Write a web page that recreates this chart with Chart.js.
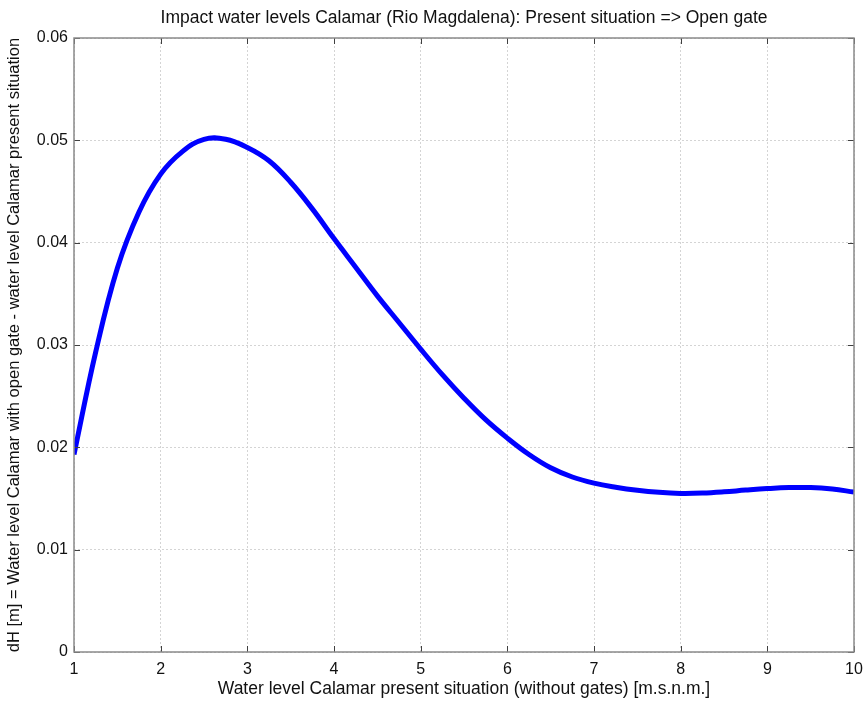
<!DOCTYPE html>
<html>
<head>
<meta charset="utf-8">
<script src="https://cdn.jsdelivr.net/npm/chart.js@4/dist/chart.umd.min.js"></script>
<style>
  html, body { margin: 0; padding: 0; background: #fff; }
  #wrap { width: 866px; height: 701px; }
</style>
</head>
<body>
<div id="wrap"><canvas id="c" width="866" height="701"></canvas></div>
<script>
// Water level at Calamar, present situation [m.s.n.m.]
const waterLevel = [1, 1.25, 1.5, 1.75, 2, 2.25, 2.5, 2.75, 3, 3.25, 3.5, 3.75, 4,
                    4.25, 4.5, 4.75, 5, 5.25, 5.5, 5.75, 6, 6.25, 6.5, 6.75, 7,
                    7.25, 7.5, 7.75, 8, 8.25, 8.5, 8.75, 9, 9.25, 9.5, 9.75, 10];
// dH [m]: open gate minus present situation
const deltaH = [0.0193, 0.0293, 0.0375, 0.0430, 0.0467, 0.0489, 0.0501, 0.0501, 0.0493,
                0.0480, 0.0459, 0.0433, 0.0404, 0.0376, 0.0348, 0.0322, 0.0296, 0.0271,
                0.0248, 0.0227, 0.0209, 0.0193, 0.0180, 0.0171, 0.0165, 0.0161, 0.0158,
                0.01560, 0.01550, 0.01553, 0.01565, 0.01582, 0.01597, 0.01607, 0.01607,
                0.01592, 0.01563];
const xTicks = [1, 2, 3, 4, 5, 6, 7, 8, 9, 10];
const yTicks = [0, 0.01, 0.02, 0.03, 0.04, 0.05, 0.06];

const FONT = "'Liberation Sans', Arial, Helvetica, sans-serif";
const TEXT = '#111';

// Box around the axes with inward tick marks on all four sides
const framePlugin = {
  id: 'frame',
  afterDatasetsDraw(chart) {
    const {ctx, chartArea: a, scales: {x, y}} = chart;
    ctx.save();
    ctx.strokeStyle = '#404040';
    ctx.lineWidth = 1;
    const len = 6;
    ctx.beginPath();
    xTicks.forEach(v => {
      const px = Math.round(x.getPixelForValue(v)) + 0.5;
      ctx.moveTo(px, a.bottom); ctx.lineTo(px, a.bottom - len);
      ctx.moveTo(px, a.top); ctx.lineTo(px, a.top + len);
    });
    yTicks.forEach(v => {
      const py = Math.round(y.getPixelForValue(v)) + 0.5;
      ctx.moveTo(a.left, py); ctx.lineTo(a.left + len, py);
      ctx.moveTo(a.right, py); ctx.lineTo(a.right - len, py);
    });
    ctx.stroke();
    ctx.strokeStyle = '#8a8a8a';
    ctx.lineWidth = 1.5;
    ctx.strokeRect(a.left, a.top, a.right - a.left, a.bottom - a.top);
    ctx.restore();
  }
};

new Chart(document.getElementById('c'), {
  type: 'scatter',
  data: {
    datasets: [{
      data: waterLevel.map((w, i) => ({x: w, y: deltaH[i]})),
      showLine: true,
      borderColor: '#0000ff',
      borderWidth: 5,
      pointRadius: 0,
      tension: 0.4,
      fill: false
    }]
  },
  options: {
    responsive: false,
    animation: false,
    events: [],
    layout: { padding: { left: 0, right: 12, top: 0, bottom: 0 } },
    plugins: {
      legend: { display: false },
      tooltip: { enabled: false },
      title: {
        display: true,
        fullSize: false,
        text: 'Impact water levels Calamar (Rio Magdalena): Present situation => Open gate',
        color: TEXT,
        font: { family: FONT, size: 17.5, weight: 'normal', lineHeight: 1.2 },
        padding: { top: 8, bottom: 9 }
      }
    },
    scales: {
      x: {
        type: 'linear',
        min: 1, max: 10,
        afterBuildTicks(scale) { scale.ticks = xTicks.map(v => ({value: v})); },
        afterFit(scale) { scale.height = 49; scale.paddingLeft = 0; scale.paddingRight = 0; },
        border: { display: false, dash: [2, 2] },
        grid: { color: '#d4d4d4', drawTicks: false, lineWidth: 1 },
        ticks: { color: TEXT, font: { family: FONT, size: 16 }, padding: 8, maxRotation: 0 },
        title: {
          display: true,
          text: 'Water level Calamar present situation (without gates) [m.s.n.m.]',
          color: TEXT,
          font: { family: FONT, size: 17.5, lineHeight: 1.2 },
          padding: { top: 0, bottom: 1 }
        }
      },
      y: {
        type: 'linear',
        min: 0, max: 0.06,
        afterBuildTicks(scale) { scale.ticks = yTicks.map(v => ({value: v})); },
        afterFit(scale) { scale.width = 74; scale.paddingTop = 0; scale.paddingBottom = 0; },
        border: { display: false, dash: [2, 2] },
        grid: { color: '#d4d4d4', drawTicks: false, lineWidth: 1 },
        ticks: {
          color: TEXT, font: { family: FONT, size: 16 }, padding: 6,
          callback: v => String(+v.toFixed(2))
        },
        title: {
          display: true,
          text: 'dH [m] = Water level Calamar with open gate - water level Calamar present situation',
          color: TEXT,
          font: { family: FONT, size: 16.5, lineHeight: 1.2 },
          padding: { top: 5, bottom: 0 }
        }
      }
    }
  },
  plugins: [framePlugin]
});
</script>
</body>
</html>
